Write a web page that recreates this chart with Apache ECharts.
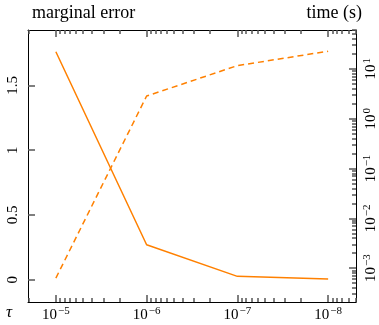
<!DOCTYPE html>
<html>
<head>
<meta charset="utf-8">
<script src="https://cdn.jsdelivr.net/npm/echarts@6/dist/echarts.min.js"></script>
<style>
  html, body { margin: 0; padding: 0; background: #fff; }
  #chart { width: 379px; height: 325px; }
</style>
</head>
<body>
<div id="chart"></div>
<script>
// tolerance tau on the x axis (shown reversed, 1e-5 .. 1e-8)
const tau = [1e-5, 1e-6, 1e-7, 1e-8]
const marginalError = [1.76, 0.27, 0.026, 0.006]
const timeSeconds = [0.00063, 2.85, 11.6, 22.6]

const errorTicks = [0, 0.5, 1, 1.5]
const tauTicks = [1e-5, 1e-6, 1e-7, 1e-8]
const timeTicks = [1e-3, 1e-2, 1e-1, 1, 10]

const font = 'Liberation Serif'
const orange = '#ff8000'
const tickColor = '#555'

// 2..9 x 10^k between two decades
const minorsOf = (lo, hi) => {
  const out = []
  for (let e = lo; e <= hi; e++)
    for (let k = 2; k <= 9; k++) out.push(k * Math.pow(10, e))
  return out
}

const powLabel = v => {
  const e = Math.round(Math.log10(v))
  return '{b|10}{s|' + (e < 0 ? '\u2212' + (-e) : e) + '}'
}
const powRich = {
  b: { fontFamily: font, fontSize: 15, color: '#000' },
  s: { fontFamily: font, fontSize: 11, color: '#000', padding: [0, 0, 8, 1] },
}

const xRange = { min: Math.pow(10, -8.307), max: Math.pow(10, -4.693) }
const yRange = { min: Math.pow(10, -3.68), max: Math.pow(10, 1.78) }

const xAxisBase = (position, values, len, showLine, showLabel) => ({
  type: 'log',
  position,
  inverse: true,
  ...xRange,
  axisLine: { show: showLine, onZero: false, lineStyle: { color: '#000', width: 1 } },
  axisTick: { show: true, inside: true, length: len, customValues: values, lineStyle: { color: tickColor, width: 1.5 } },
  splitLine: { show: false },
  axisLabel: {
    show: showLabel,
    customValues: tauTicks,
    formatter: powLabel,
    rich: powRich,
    margin: 4,
  },
})

const yLogBase = (values, len, showLine, showLabel) => ({
  type: 'log',
  position: 'right',
  ...yRange,
  axisLine: { show: showLine, onZero: false, lineStyle: { color: '#000', width: 1 } },
  axisTick: { show: true, inside: true, length: len, customValues: values, lineStyle: { color: tickColor, width: 1.5 } },
  splitLine: { show: false },
  axisLabel: {
    show: showLabel,
    customValues: timeTicks,
    formatter: powLabel,
    rich: powRich,
    rotate: 90,
    margin: 6,
  },
})

const chart = echarts.init(document.getElementById('chart'))

chart.setOption({
  animation: false,
  backgroundColor: '#fff',
  grid: { left: 28, right: 21, top: 30, bottom: 23 },
  xAxis: [
    xAxisBase('bottom', tauTicks, 7, true, true),
    xAxisBase('top', tauTicks, 7, true, false),
    xAxisBase('bottom', minorsOf(-9, -5), 4, false, false),
    xAxisBase('top', minorsOf(-9, -5), 4, false, false),
  ],
  yAxis: [
    {
      type: 'value',
      position: 'left',
      min: -0.172,
      max: 1.928,
      axisLine: { show: true, onZero: false, lineStyle: { color: '#000', width: 1 } },
      axisTick: { show: true, inside: true, length: 7, customValues: errorTicks, lineStyle: { color: tickColor, width: 1.5 } },
      splitLine: { show: false },
      axisLabel: {
        customValues: errorTicks,
        rotate: 90,
        margin: 7,
        fontFamily: font,
        fontSize: 15,
        color: '#000',
      },
    },
    yLogBase(timeTicks, 7, true, true),
    yLogBase(minorsOf(-4, 1), 4, false, false),
  ],
  graphic: [
    { type: 'text', left: 32, top: 4, style: { text: 'marginal error', font: '18px "' + font + '"', fill: '#000' } },
    { type: 'text', right: 17, top: 4, style: { text: 'time (s)', font: '18px "' + font + '"', fill: '#000' } },
    { type: 'text', left: 6, top: 304, style: { text: '\u03c4', font: 'italic 17px "' + font + '"', fill: '#000' } },
  ],
  series: [
    {
      name: 'marginal error',
      type: 'line',
      xAxisIndex: 0,
      yAxisIndex: 0,
      data: tau.map((t, i) => [t, marginalError[i]]),
      symbol: 'none',
      lineStyle: { color: orange, width: 1.5 },
    },
    {
      name: 'time (s)',
      type: 'line',
      xAxisIndex: 0,
      yAxisIndex: 1,
      data: tau.map((t, i) => [t, timeSeconds[i]]),
      symbol: 'none',
      lineStyle: { color: orange, width: 1.5, type: [6, 4] },
    },
  ],
})
</script>
</body>
</html>
